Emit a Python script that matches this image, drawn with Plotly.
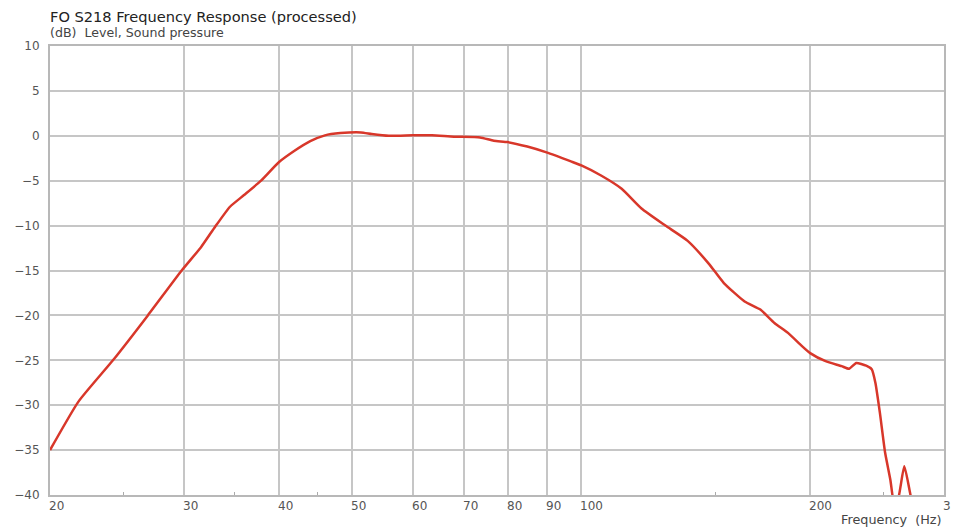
import plotly.graph_objects as go
import numpy as np

# Data
freq_hz = [20, 21.8, 24.2, 26.9, 29.8, 31.6, 33.0, 34.5, 36.0, 37.9, 40.0, 41.9, 44.0,
           46.0, 48.2, 51.3, 53.0, 55.8, 60.0, 63.6, 68.0, 73.6, 76.7, 80.0, 84.9,
           90.0, 96.9, 100.0, 106.3, 113.0, 120.0, 129.0, 138.0, 147.0, 154.0,
           164.0, 172.0, 179.5, 187.0, 195.0, 200.0, 209.6, 220.0, 225.0, 230.0,
           237.0, 241.0, 243.7, 247.0, 251.0, 255.0, 258.0, 261.0, 266.0, 270.6, 274.0]
level_db = [-35.0, -29.6, -25.0, -20.0, -15.0, -12.4, -10.1, -7.9, -6.6, -5.0, -2.95, -1.7, -0.6,
            0.05, 0.3, 0.38, 0.2, 0.0, 0.05, 0.05, -0.1, -0.18, -0.55, -0.7, -1.2,
            -1.85, -2.85, -3.3, -4.45, -5.9, -8.1, -10.0, -11.7, -14.2, -16.4,
            -18.45, -19.35, -20.85, -21.95, -23.4, -24.2, -25.1, -25.65, -25.95, -25.3,
            -25.6, -26.0, -27.5, -30.8, -35.3, -38.3, -41.0, -40.5, -36.8, -39.7, -42.0]

x_tick_vals = [20, 30, 40, 50, 60, 70, 80, 90, 100, 200, 300]
x_tick_text = ["20", "30", "40", "50", "60", "70", "80", "90", "100", "200", "3"]
x_minor_vals = [25, 35, 45, 150, 250]
y_tick_vals = [10, 5, 0, -5, -10, -15, -20, -25, -30, -35, -40]

title_text = "FO S218 Frequency Response (processed)"
subtitle_text = "(dB)  Level, Sound pressure"
x_title_text = "Frequency  (Hz)"

FONT = "DejaVu Sans, Verdana, sans-serif"
GRID = "#c6c6c6"
TICKC = "#555555"

fig = go.Figure()
fig.add_trace(go.Scatter(
    x=freq_hz, y=level_db, mode="lines",
    line=dict(color="#d8372a", width=2.5, shape="spline", smoothing=0.5),
    hoverinfo="x+y", showlegend=False,
))

annotations = [
    dict(text=title_text, xref="paper", yref="paper", x=0, y=1.0646, xanchor="left",
         yanchor="middle", showarrow=False, xshift=-1, borderpad=0,
         font=dict(family=FONT, size=14.6, color="#222222")),
    dict(text=subtitle_text, xref="paper", yref="paper", x=0, y=1.029, xanchor="left",
         yanchor="middle", showarrow=False, xshift=-1, borderpad=0,
         font=dict(family=FONT, size=12.6, color="#444444")),
    dict(text=x_title_text, xref="paper", yref="paper", x=1, y=-0.0535, xanchor="right",
         yanchor="middle", showarrow=False, xshift=-1, borderpad=0,
         font=dict(family=FONT, size=12.8, color="#444444")),
]
for v, t in zip(x_tick_vals, x_tick_text):
    annotations.append(dict(text=t, xref="x", yref="paper", x=np.log10(v), y=0,
                            xanchor="left", yanchor="top", showarrow=False,
                            xshift=-3, yshift=-2,
                            font=dict(family=FONT, size=12, color=TICKC)))

# The page body has an 8px margin, so the figure is sized/offset to compensate.
fig.update_layout(
    width=956, height=522,
    margin=dict(l=42, r=20, t=38, b=35, autoexpand=False),
    paper_bgcolor="white", plot_bgcolor="white",
    annotations=annotations,
    xaxis=dict(
        type="log", range=[np.log10(20), np.log10(300)], automargin=False,
        tickmode="array", tickvals=x_tick_vals, showticklabels=False,
        ticks="", showgrid=True, gridcolor=GRID, gridwidth=1.5,
        showline=True, linecolor="#b8b8b8", linewidth=2, mirror=True,
        zeroline=False,
        minor=dict(tickmode="array", tickvals=x_minor_vals, ticks="inside",
                   ticklen=3, tickwidth=1, tickcolor="#aaaaaa", showgrid=False),
    ),
    yaxis=dict(
        range=[-40, 10], tickmode="array", tickvals=y_tick_vals, automargin=False,
        ticks="", showgrid=True, gridcolor=GRID, gridwidth=1.5,
        showline=True, linecolor="#b8b8b8", linewidth=2, mirror=True,
        zeroline=False, ticklabelstandoff=6,
        tickfont=dict(family=FONT, size=12, color=TICKC),
    ),
)

fig.write_html("out.html")
